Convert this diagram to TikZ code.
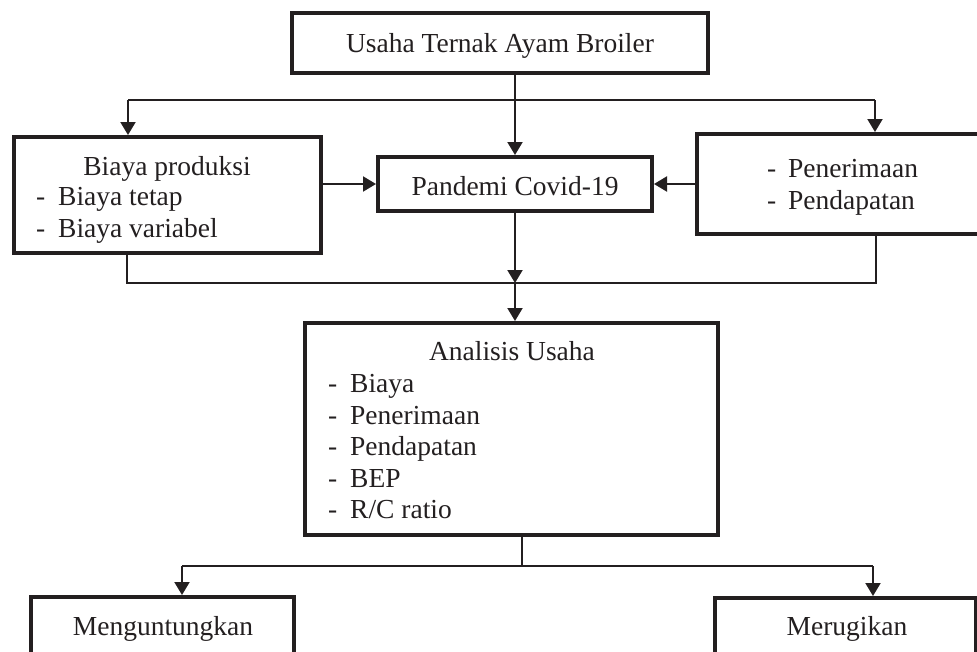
\documentclass[tikz,border=0pt]{standalone}
\usepackage{fontspec}
\setmainfont{Liberation Serif}
\usetikzlibrary{arrows.meta}
\definecolor{ink}{HTML}{231F20}
\tikzset{
  box/.style={draw=ink, line width=4pt, rectangle, inner sep=0pt},
  txt/.style={inner sep=0pt, text=ink, font=\fontsize{27.5}{32}\selectfont},
  arr/.style={draw=ink, line width=2pt, -{Triangle[width=15pt,length=13pt]}},
  bus/.style={draw=ink, line width=1.5pt},
}
\begin{document}
\begin{tikzpicture}[x=1pt,y=-1pt]
\useasboundingbox (0,0) rectangle (977,651);
\clip (0,0) rectangle (977,651);
% boxes
\node[box, minimum width=416pt, minimum height=60pt] (top) at (500,43) {};
\node[box, minimum width=307pt, minimum height=116pt] (left) at (167.5,195) {};
\node[box, minimum width=274pt, minimum height=54pt] (pan) at (515,184) {};
\node[box, minimum width=303pt, minimum height=100pt] (right) at (848.5,184) {};
\node[box, minimum width=413pt, minimum height=212pt] (ana) at (511.5,429) {};
\node[box, minimum width=263pt, minimum height=90pt] (gain) at (162.5,642) {};
\node[box, minimum width=261pt, minimum height=90pt] (loss) at (845.5,643) {};
% texts
\node[txt, anchor=base] (ttop) at (500,52) {Usaha Ternak Ayam Broiler};
\node[txt, anchor=base] (tl1) at (167,175) {Biaya produksi};
\node[txt, anchor=base west] (tl2d) at (36,205) {-};
\node[txt, anchor=base west] (tl2) at (58,205) {Biaya tetap};
\node[txt, anchor=base west] (tl3d) at (36,237) {-};
\node[txt, anchor=base west] (tl3) at (58,237) {Biaya variabel};
\node[txt, anchor=base] (tpan) at (515,195) {Pandemi Covid-19};
\node[txt, anchor=base west] (tr1d) at (767,177) {-};
\node[txt, anchor=base west] (tr1) at (788,177) {Penerimaan};
\node[txt, anchor=base west] (tr2d) at (767,209) {-};
\node[txt, anchor=base west] (tr2) at (788,209) {Pendapatan};
\node[txt, anchor=base] (tana) at (512,360) {Analisis Usaha};
\node[txt, anchor=base west] (ta1d) at (328,392) {-};
\node[txt, anchor=base west] (ta1) at (350,392) {Biaya};
\node[txt, anchor=base west] (ta2d) at (328,424) {-};
\node[txt, anchor=base west] (ta2) at (350,424) {Penerimaan};
\node[txt, anchor=base west] (ta3d) at (328,455) {-};
\node[txt, anchor=base west] (ta3) at (350,455) {Pendapatan};
\node[txt, anchor=base west] (ta4d) at (328,487) {-};
\node[txt, anchor=base west] (ta4) at (350,487) {BEP};
\node[txt, anchor=base west] (ta5d) at (328,518) {-};
\node[txt, anchor=base west] (ta5) at (350,518) {R/C ratio};
\node[txt, anchor=base] (tgain) at (163,635) {Menguntungkan};
\node[txt, anchor=base] (tloss) at (847,635) {Merugikan};
% coordinates
\coordinate (b1l) at (128,100);
\coordinate (b1r) at (875,100);
\coordinate (b2l) at (127,283);
\coordinate (b2r) at (876,283);
\coordinate (b2m) at (515,283);
\coordinate (b3m) at (522,566);
\coordinate (b3l) at (182,566);
\coordinate (b3r) at (873,566);
% connectors
\draw[arr] (top.south -| pan.north) -- (pan.north);
\draw[bus] (b1l) -- (b1r);
\draw[arr] (b1l) -- (left.north -| b1l);
\draw[arr] (b1r) -- (right.north -| b1r);
\draw[arr] (left.east |- pan.west) -- (pan.west);
\draw[arr] (right.west) -- (pan.east);
\draw[bus] (left.south -| b2l) -- (b2l) -- (b2r) -- (right.south -| b2r);
\draw[arr] (pan.south) -- (b2m);
\draw[arr] (b2m) -- (ana.north -| b2m);
\draw[bus] (ana.south -| b3m) -- (b3m);
\draw[bus] (b3l) -- (b3r);
\draw[arr] (b3l) -- (gain.north -| b3l);
\draw[arr] (b3r) -- (loss.north -| b3r);
\end{tikzpicture}
\end{document}
